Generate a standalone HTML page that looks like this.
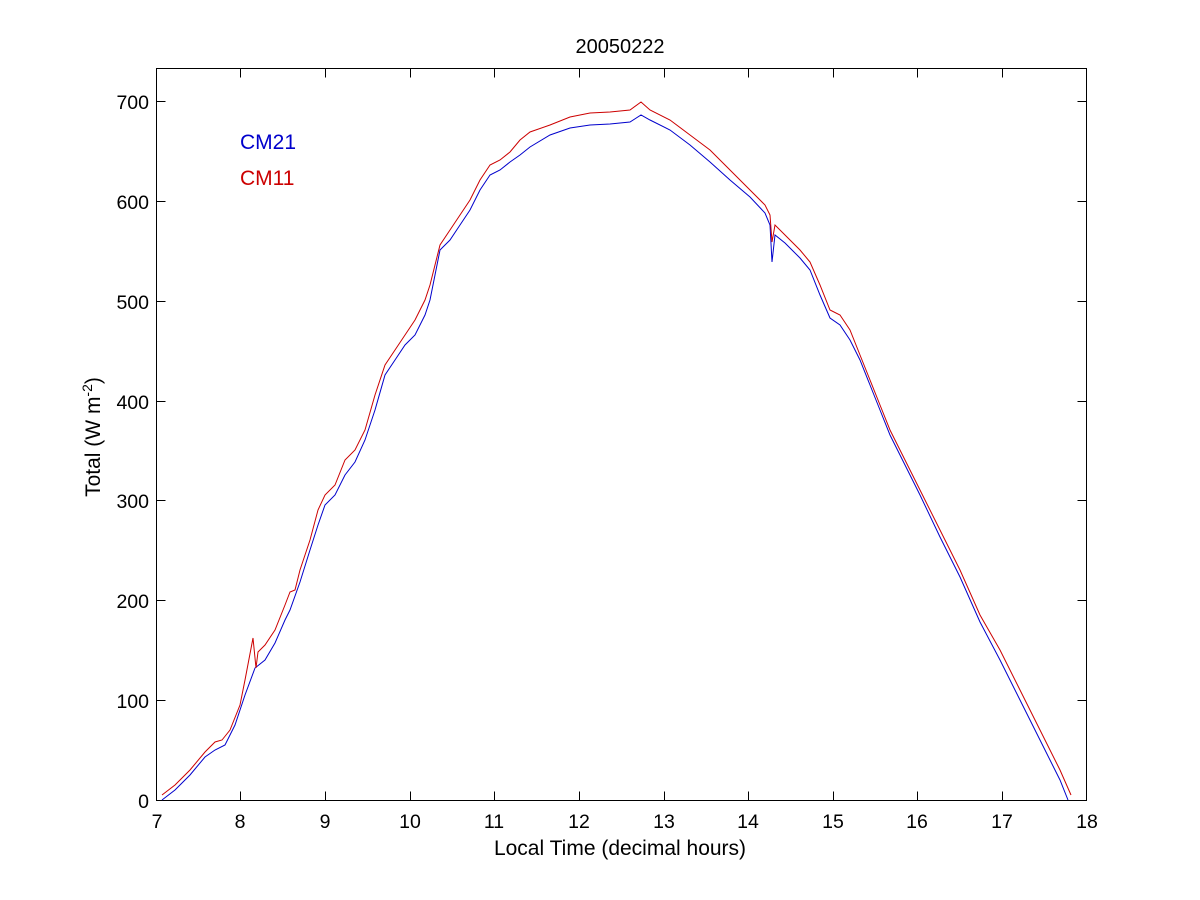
<!DOCTYPE html>
<html><head><meta charset="utf-8"><style>
html,body{margin:0;padding:0;background:#fff;}
svg{display:block;font-family:"Liberation Sans",Arial,sans-serif;}
</style></head><body>
<svg width="1200" height="900" viewBox="0 0 1200 900" xmlns="http://www.w3.org/2000/svg">
<rect width="1200" height="900" fill="#fff"/>
<g stroke="#000" stroke-width="1" fill="none">
<rect x="156.5" y="68.5" width="930" height="732"/>
<path d="M240.5 800.5v-9M325.5 800.5v-9M410.5 800.5v-9M494.5 800.5v-9M579.5 800.5v-9M664.5 800.5v-9M748.5 800.5v-9M833.5 800.5v-9M917.5 800.5v-9M1002.5 800.5v-9
M240.5 68.5v9M325.5 68.5v9M410.5 68.5v9M494.5 68.5v9M579.5 68.5v9M664.5 68.5v9M748.5 68.5v9M833.5 68.5v9M917.5 68.5v9M1002.5 68.5v9
M156.5 700.5h9M156.5 600.5h9M156.5 500.5h9M156.5 401.5h9M156.5 301.5h9M156.5 201.5h9M156.5 101.5h9
M1086.5 700.5h-9M1086.5 600.5h-9M1086.5 500.5h-9M1086.5 401.5h-9M1086.5 301.5h-9M1086.5 201.5h-9M1086.5 101.5h-9"/>
</g>
<g font-size="19.5" fill="#000" text-anchor="middle">
<text x="157" y="828">7</text><text x="240" y="828">8</text><text x="325" y="828">9</text><text x="410" y="828">10</text><text x="494" y="828">11</text><text x="579" y="828">12</text><text x="664" y="828">13</text><text x="748" y="828">14</text><text x="833" y="828">15</text><text x="917" y="828">16</text><text x="1002" y="828">17</text><text x="1087" y="828">18</text>
</g>
<g font-size="19.5" fill="#000" text-anchor="end">
<text x="149" y="808">0</text><text x="149" y="708">100</text><text x="149" y="608">200</text><text x="149" y="508">300</text><text x="149" y="409">400</text><text x="149" y="309">500</text><text x="149" y="209">600</text><text x="149" y="109">700</text>
</g>
<text x="620" y="53" font-size="20" text-anchor="middle">20050222</text>
<text x="620" y="855" font-size="21" text-anchor="middle">Local Time (decimal hours)</text>
<text transform="translate(100,437) rotate(-90)" font-size="21" text-anchor="middle">Total (W m<tspan dy="-8" font-size="14">-2</tspan><tspan dy="8">)</tspan></text>
<text x="240" y="149" font-size="21" fill="#0000cc">CM21</text>
<text x="240" y="185" font-size="21" fill="#cc0000">CM11</text>
<polyline fill="none" stroke="#0000cc" stroke-width="1" points="162,800 175,790 190,775 205,757 215,750 225,745 235,725 245,695 255,668 265,660 275,643 285,620 290,610 300,582 310,550 318,525 325,505 335,495 345,475 355,462 365,440 375,410 385,375 395,360 405,345 415,335 425,315 430,300 440,250 450,240 460,225 470,210 480,190 490,175 500,170 510,162 520,155 530,147 550,135 570,128 590,125 610,124 630,122 641,115 650,120 670,130 690,145 710,162 730,180 750,197 765,213 770,225 772,262 775,235 785,243 800,258 810,270 820,295 830,318 840,325 850,340 860,360 870,385 880,410 890,435 900,455 920,495 940,537 960,577 980,622 1000,660 1020,700 1040,740 1060,780 1068,800"/>
<polyline fill="none" stroke="#cc0000" stroke-width="1" points="162,795 175,785 190,770 205,752 215,742 222,740 230,730 240,705 245,680 253,638 256,668 258,652 265,645 275,630 285,605 290,592 295,590 300,570 310,540 318,510 325,495 335,485 345,460 355,450 365,430 375,395 385,365 395,350 405,335 415,320 425,300 430,285 440,245 450,230 460,215 470,200 480,180 490,165 500,160 510,152 520,140 530,132 550,125 570,117 590,113 610,112 630,110 641,102 650,110 670,120 690,135 710,150 730,170 750,190 765,205 770,215 772,242 775,225 785,235 800,250 810,262 820,285 830,310 840,315 850,330 860,355 870,380 880,405 890,430 900,450 920,490 940,530 960,570 980,615 1000,650 1020,690 1040,730 1060,770 1071,795"/>
</svg>
</body></html>
